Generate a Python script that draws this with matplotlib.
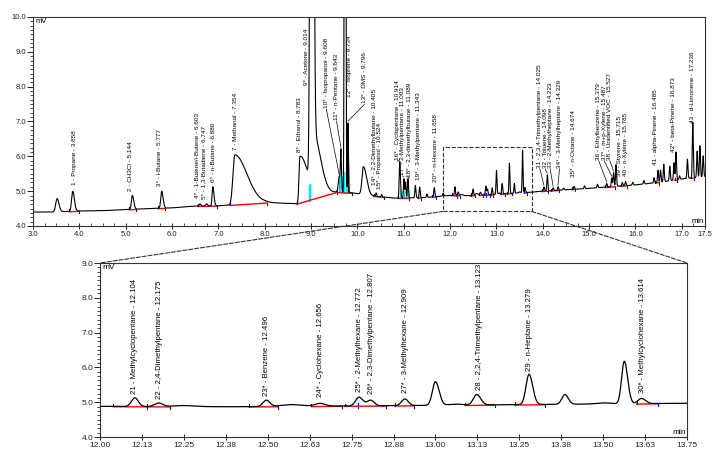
import numpy as np
import matplotlib
matplotlib.use('Agg')
import matplotlib.pyplot as plt
from matplotlib.patches import Rectangle, ConnectionPatch

plt.rcParams['font.family'] = ['Liberation Sans', 'DejaVu Sans']

########### data ###########
# baseline drift (min, mV)
base_t = [3.0, 3.4, 4.0, 4.5, 5.0, 5.5, 6.0, 6.5, 7.0, 7.25, 8.0, 8.7, 9.0, 9.55,
          9.9, 10.4, 10.8, 11.5, 12.0, 12.4, 13.0, 13.75, 14.0, 15.0, 16.0, 16.5, 17.0, 17.5]
base_v = [4.40, 4.40, 4.43, 4.44, 4.47, 4.50, 4.52, 4.57, 4.58, 4.60, 4.67, 4.64, 4.75, 4.97,
          4.95, 4.85, 4.80, 4.82, 4.88, 4.87, 4.91, 4.97, 5.00, 5.08, 5.18, 5.25, 5.35, 5.42]

# peaks: retention time, height above baseline, left / right width
pk_rt = [3.52, 3.858, 5.144, 5.777, 6.603, 6.747, 6.880, 7.354, 8.76, 9.014, 9.05,
         9.608, 9.643, 9.734, 9.796, 10.13, 10.405, 10.524, 10.914, 11.003, 11.04,
         11.089, 11.25, 11.343, 11.5, 11.658, 11.85,
         12.104, 12.175, 12.25, 12.496, 12.57, 12.656, 12.772, 12.807, 12.909, 13.000,
         13.06, 13.123, 13.279, 13.386, 13.50, 13.563, 13.614,
         14.025, 14.098, 14.223, 14.329, 14.45, 14.674, 14.9, 15.18, 15.379, 15.487,
         15.527, 15.58, 15.715, 15.785, 15.94, 16.18, 16.40, 16.485, 16.54, 16.61,
         16.74, 16.83, 16.873, 16.95, 17.12, 17.236, 17.33, 17.39, 17.46]
pk_h = [0.38, 0.57, 0.40, 0.49, 0.06, 0.06, 0.55, 1.43, 1.34, 40.0, 1.70,
        0.45, 1.15, 40.0, 2.00, 0.80, 0.10, 0.07, 1.05, 0.55, 0.45,
        0.55, 0.35, 0.30, 0.10, 0.26, 0.08,
        0.25, 0.10, 0.03, 0.18, 0.05, 0.08, 0.25, 0.16, 0.19, 0.68,
        0.03, 0.30, 0.87, 0.28, 0.03, 1.22, 0.15,
        0.12, 0.46, 0.08, 0.10, 0.05, 0.08, 0.08, 0.10, 0.10, 0.25,
        0.40, 0.62, 0.10, 0.12, 0.08, 0.10, 0.15, 0.35, 0.35, 0.50,
        0.42, 0.50, 0.80, 0.10, 0.55, 1.60, 0.75, 0.90, 0.60]
pk_sl = [0.03, 0.025, 0.02, 0.02, 0.02, 0.02, 0.015, 0.04, 0.02, 0.025, 0.02,
         0.02, 0.01, 0.012, 0.008, 0.03, 0.01, 0.01, 0.012, 0.01, 0.01,
         0.01, 0.01, 0.01, 0.01, 0.01, 0.01,
         0.01, 0.012, 0.03, 0.01, 0.03, 0.015, 0.01, 0.01, 0.01, 0.009,
         0.02, 0.01, 0.009, 0.009, 0.02, 0.008, 0.01,
         0.01, 0.01, 0.01, 0.01, 0.01, 0.01, 0.01, 0.01, 0.01, 0.01,
         0.01, 0.01, 0.01, 0.01, 0.01, 0.01, 0.01, 0.01, 0.01, 0.01,
         0.01, 0.01, 0.01, 0.01, 0.01, 0.01, 0.01, 0.01, 0.01]
pk_sr = [0.04, 0.035, 0.03, 0.03, 0.02, 0.02, 0.025, 0.26, 0.17, 0.03, 0.16,
         0.02, 0.012, 0.012, 0.01, 0.07, 0.01, 0.01, 0.015, 0.012, 0.01,
         0.012, 0.012, 0.012, 0.01, 0.012, 0.01,
         0.01, 0.012, 0.03, 0.01, 0.03, 0.015, 0.012, 0.01, 0.01, 0.011,
         0.02, 0.012, 0.011, 0.01, 0.02, 0.01, 0.012,
         0.012, 0.012, 0.012, 0.012, 0.012, 0.012, 0.012, 0.012, 0.012, 0.012,
         0.012, 0.012, 0.012, 0.012, 0.012, 0.012, 0.012, 0.012, 0.012, 0.012,
         0.012, 0.012, 0.012, 0.012, 0.012, 0.012, 0.012, 0.012, 0.012]

# integration baselines (red) start/end
seg_start = [3.78, 5.08, 5.70, 6.55, 7.25, 8.70, 9.55, 10.35, 10.88, 11.30, 11.62,
             12.04, 12.14, 12.445, 12.63, 12.73, 12.77, 12.88, 13.088, 13.237, 13.60,
             13.98, 14.18, 14.63, 15.35, 15.68, 16.43, 16.85, 17.20]
seg_end = [4.00, 5.22, 5.85, 6.97, 8.05, 9.55, 9.88, 10.58, 11.12, 11.38, 11.70,
           12.14, 12.21, 12.53, 12.72, 12.77, 12.852, 12.936, 13.178, 13.327, 13.664,
           14.12, 14.36, 14.70, 15.56, 15.82, 16.50, 16.90, 17.26]
# cyan drop lines and their top (mV above baseline)
cyan_t = [8.95, 8.965, 8.98, 9.63, 9.66, 9.69, 9.72, 9.76, 9.78, 10.92, 10.95, 11.00, 11.05, 11.09]
cyan_h = [0.45, 0.45, 0.45, 0.45, 0.5, 0.55, 0.6, 0.55, 0.5, 0.2, 0.2, 0.2, 0.2, 0.2]

# peak labels, upper chart
lab_top = ['1 - Propane - 3.858', '2 - CH3Cl - 5.144', '3* - i-Butane - 5.777',
           '4* - 1-Butene/i-Butene - 6.603', '5* - 1,3-Butadiene - 6.747', '6* - n-Butane - 6.880',
           '7 - Methanol - 7.354', '8* - Ethanol - 8.783', '9* - Acetone - 9.014',
           '10* - Isopropanol - 9.608', '11* - n-Pentane - 9.643', '12* - Isoprene - 9.734',
           '13* - DMS - 9.796', '14* - 2,2-Dimethylbutane - 10.405', '15* - Propanol - 10.524',
           '16* - Cyclopentane - 10.914', '17* - 2-Methylpentane - 11.003',
           '18* - 2,3-dimethylbutane - 11.089', '19* - 3-Methylpentane - 11.343',
           '20* - n-Hexane - 11.658', '31 - 2,3,4-Trimethylpentane - 14.025', '32 - Toluene - 14.098',
           '33 - 2-Methylheptane - 14.223', '34* - 3-Methylheptane - 14.329', '35* - n-Octane - 14.674',
           '36 - Ethylbenzene - 15.379', '37* - m+p-Xylene - 15.487', '38 - Unidentified VOC - 15.527',
           '39 - Styrene - 15.715', '40 - o-Xylene - 15.785', '41 - alpha-Pinene - 16.485',
           '42* - beta-Pinene - 16.873', '43 - d-Limonene - 17.236']
lab_top_rt = [3.858, 5.144, 5.777, 6.603, 6.747, 6.880, 7.354, 8.783, 9.014, 9.608, 9.643, 9.734,
              9.796, 10.405, 10.524, 10.914, 11.003, 11.089, 11.343, 11.658, 14.025, 14.098,
              14.223, 14.329, 14.674, 15.379, 15.487, 15.527, 15.715, 15.785, 16.485, 16.873, 17.236]
# label text anchor (x centre, y bottom)
lab_top_x = [3.89, 5.10, 5.74, 6.56, 6.69, 6.89, 7.36, 8.75, 8.90, 9.33, 9.55, 9.84, 10.15,
             10.37, 10.48, 10.86, 10.98, 11.12, 11.32, 11.68, 13.94, 14.05, 14.16, 14.36,
             14.66, 15.21, 15.33, 15.45, 15.66, 15.79, 16.43, 16.82, 17.23]
lab_top_y = [5.17, 5.00, 5.14, 4.80, 4.77, 5.26, 6.17, 6.12, 8.05, 7.38, 7.04, 7.70, 7.52,
             5.17, 5.05, 5.89, 5.46, 5.40, 5.32, 5.26, 5.66, 5.66, 5.66, 5.66,
             5.40, 5.89, 5.89, 5.89, 5.43, 5.43, 5.75, 6.12, 6.95]
lab_top_lead = [0, 0, 0, 0, 0, 0, 0, 0, 0, 1, 1, 0, 1, 0, 0, 1, 1, 1, 0, 0,
                1, 1, 1, 1, 0, 1, 1, 1, 0, 0, 0, 0, 0]

# peak labels, zoomed chart
lab_bot = ['21 - Methylcyclopentane - 12.104', '22 - 2,4-Dimethylpentane - 12.175',
           '23* - Benzene - 12.496', '24* - Cyclohexane - 12.656', '25* - 2-Methylhexane - 12.772',
           '26* - 2,3-Dimethylpentane - 12.807', '27* - 3-Methylhexane - 12.909',
           '28 - 2,2,4-Trimethylpentane - 13.123', '29 - n-Heptane - 13.279',
           '30* - Methylcyclohexane - 13.614']
lab_bot_x = [12.104, 12.177, 12.497, 12.656, 12.775, 12.81, 12.911, 13.13, 13.28, 13.618]
lab_bot_y = [5.24, 5.09, 5.19, 5.15, 5.30, 5.24, 5.26, 5.35, 5.90, 5.27]

top_xticks = [3.0, 4.0, 5.0, 6.0, 7.0, 8.0, 9.0, 10.0, 11.0, 12.0, 13.0, 14.0, 15.0, 16.0, 17.0, 17.5]
bot_xticks = [12.0 + 0.125 * k for k in range(15)]
bot_xlabels = ['12.00', '12.13', '12.25', '12.38', '12.50', '12.63', '12.75', '12.88',
               '13.00', '13.13', '13.25', '13.38', '13.50', '13.63', '13.75']

zoom_box = (11.85, 4.42, 13.76, 6.27)


########### Function ###########
def baseline(t):
    return np.interp(t, base_t, base_v)


def signal(t):
    t = np.asarray(t, dtype=float)
    y = baseline(t)
    for rt, h, sl, sr in zip(pk_rt, pk_h, pk_sl, pk_sr):
        s = np.where(t < rt, sl, sr)
        y = y + h * np.exp(-0.5 * ((t - rt) / s) ** 2)
    return y


def draw_trace(ax, t0, t1, tick_h, lw):
    t = np.linspace(t0, t1, 40000)
    y = signal(t)
    # coloured integration fills
    for t_a, t_b, col in [(9.595, 9.625, 'magenta'), (9.78, 9.812, 'black')]:
        m = (t >= t_a) & (t <= t_b)
        if m.any():
            ax.fill_between(t[m], baseline(t[m]), y[m], color=col, lw=0)
    for tc, hc in zip(cyan_t, cyan_h):
        if t0 <= tc <= t1:
            ax.plot([tc, tc], [baseline(tc), min(signal(tc), baseline(tc) + hc)],
                    color='#00e5ff', lw=1.0)
    for a, b in zip(seg_start, seg_end):
        if b < t0 or a > t1:
            continue
        ax.plot([a, b], [baseline(a) - 0.01, baseline(b) - 0.01], color='red', lw=1.0)
        ax.plot([a, a], [baseline(a), baseline(a) + tick_h], color='blue', lw=0.8)
        ax.plot([b, b], [baseline(b) - tick_h, baseline(b)], color='blue', lw=0.8)
    ax.plot(t, y, color='black', lw=lw)


def style_axes(ax, lab_size):
    for sp in ax.spines.values():
        sp.set_color('#333333')
        sp.set_linewidth(0.8)
    ax.tick_params(axis='y', which='major', direction='out', length=4, width=0.7,
                   labelsize=lab_size, colors='#222222', pad=1)
    ax.tick_params(axis='y', which='minor', direction='out', length=2, width=0.5)
    ax.tick_params(axis='x', which='major', direction='inout', length=5, width=0.7,
                   labelsize=lab_size, colors='#222222', pad=1)
    ax.tick_params(axis='x', which='minor', direction='in', length=2, width=0.5)
    ax.set_yticks(np.arange(4.0, ax.get_ylim()[1] + 0.01, 1.0))
    ax.set_yticks(np.arange(4.0, ax.get_ylim()[1] + 0.01, 0.125), minor=True)
    ax.yaxis.set_major_formatter(matplotlib.ticker.FormatStrFormatter('%.1f'))
    ax.text(0.004, 0.995, 'mV', transform=ax.transAxes, ha='left', va='top', fontsize=lab_size)
    ax.text(0.998, 0.005, 'min', transform=ax.transAxes, ha='right', va='bottom', fontsize=lab_size)


fig = plt.figure(figsize=(7.19, 4.65), dpi=100)
ax1 = fig.add_axes([0.0459, 0.514, 0.9346, 0.4495])
ax2 = fig.add_axes([0.1391, 0.0602, 0.8164, 0.3742])

##### upper chart #####
ax1.set_xlim(3.0, 17.5)
ax1.set_ylim(4.0, 10.0)
draw_trace(ax1, 3.0, 17.5, 0.06, 0.8)
style_axes(ax1, 5.5)
ax1.set_xticks(top_xticks)
ax1.set_xticklabels(['%.1f' % v for v in top_xticks])
ax1.set_xticks(np.arange(3.0, 17.5, 0.25), minor=True)

for s, rt, x, y, lead in zip(lab_top, lab_top_rt, lab_top_x, lab_top_y, lab_top_lead):
    ax1.text(x, y, s, rotation=90, ha='center', va='bottom', fontsize=4.6)
    if lead:
        ax1.plot([x, rt], [y - 0.03, min(signal(rt), 9.9) + 0.05], color='black', lw=0.5)

x0, y0, x1, y1 = zoom_box
ax1.add_patch(Rectangle((x0, y0), x1 - x0, y1 - y0, fill=False, ls='--', lw=0.8,
                        ec='#333333'))

##### zoomed chart #####
ax2.set_xlim(12.0, 13.75)
ax2.set_ylim(4.0, 9.0)
draw_trace(ax2, 12.0, 13.75, 0.07, 0.9)
style_axes(ax2, 6)
ax2.set_xticks(bot_xticks)
ax2.set_xticklabels(bot_xlabels)

for s, x, y in zip(lab_bot, lab_bot_x, lab_bot_y):
    ax2.text(x, y, s, rotation=90, ha='center', va='bottom', fontsize=5.6)

for xa, xb in [((x0, y0), (0, 1)), ((x1, y0), (1, 1))]:
    con = ConnectionPatch(xyA=xa, coordsA=ax1.transData, xyB=xb, coordsB=ax2.transAxes,
                          ls='--', lw=0.8, color='#333333')
    fig.add_artist(con)

plt.savefig('out.png', dpi=100)
plt.close()
